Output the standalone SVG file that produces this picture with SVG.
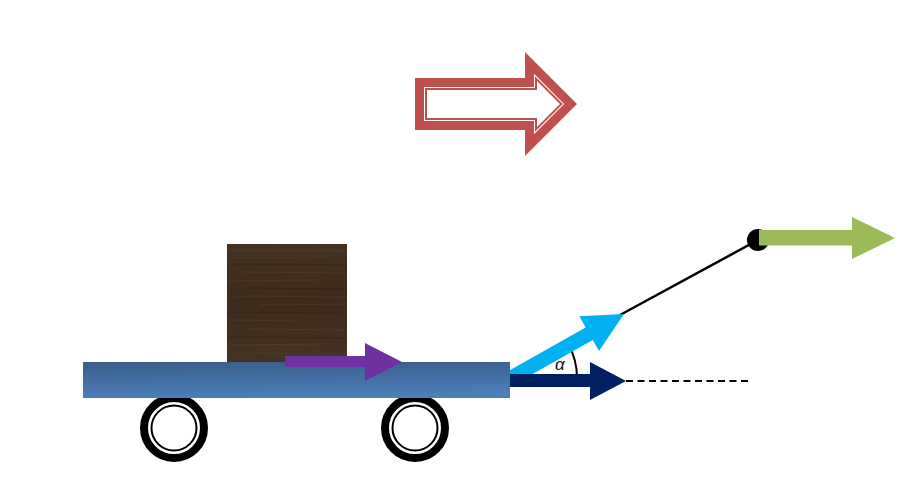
<svg xmlns="http://www.w3.org/2000/svg" width="914" height="484" viewBox="0 0 914 484">
  <style>
    .wheel-tire { fill: none; stroke: #000; stroke-width: 8; }
    .wheel-rim { fill: #fff; stroke: #000; stroke-width: 2; }
    .red-line { fill: none; stroke: #C0504D; stroke-linejoin: miter; stroke-miterlimit: 6; }
    .grain { stroke: #5e4837; stroke-width: 1; opacity: 0.4; }
    .grain2 { stroke: #2c1e14; stroke-width: 1.2; opacity: 0.45; }
  </style>
  <defs>
    <linearGradient id="platGrad" x1="0" y1="0" x2="0.15" y2="1">
      <stop offset="0" stop-color="#3A5D8A"/>
      <stop offset="1" stop-color="#4C7EBA"/>
    </linearGradient>
    <linearGradient id="woodGrad" x1="0" y1="0" x2="0" y2="1">
      <stop offset="0" stop-color="#44311F"/>
      <stop offset="0.5" stop-color="#3D2B1E"/>
      <stop offset="1" stop-color="#443223"/>
    </linearGradient>
  </defs>
  <rect width="914" height="484" fill="#fff"/>

  <!-- Big direction arrow -->
  <g id="direction-arrow">
    <polygon class="red-line" stroke-width="9" points="419.5,82.5 529.5,82.5 529.5,62.9 570.6,104 529.5,145.1 529.5,125.5 419.5,125.5"/>
    <polygon class="red-line" stroke-width="2" points="426,89 536,89 536,78.6 561.4,104 536,129.4 536,119 426,119"/>
  </g>

  <!-- Connectors: angle arc, rope, dashed reference -->
  <g id="connectors">
    <path d="M577,378 A67,67 0 0 0 568.3,344.5" fill="none" stroke="#000" stroke-width="2"/>
    <line x1="620" y1="315" x2="758" y2="240" stroke="#000" stroke-width="2.5"/>
    <line x1="626" y1="381" x2="750" y2="381" stroke="#000" stroke-width="2" stroke-dasharray="7 4.5"/>
  </g>

  <!-- Pulling force (blue, oblique) -->
  <g id="force-oblique">
    <polygon fill="#00B0F0" transform="translate(510,378.5) rotate(-29.5)" points="0,-7.2 91,-7.2 91,-20 131,0 91,20 91,7.2 0,7.2"/>
  </g>

  <!-- Horizontal component (navy) -->
  <g id="force-horizontal">
    <polygon fill="#002060" points="510,374 590,374 590,362 626,381 590,400 590,387 510,387"/>
  </g>

  <!-- Cart -->
  <g id="cart">
    <g id="wheel-left">
      <circle class="wheel-tire" cx="174" cy="428" r="30"/>
      <circle class="wheel-rim" cx="174" cy="428" r="22.5"/>
    </g>
    <g id="wheel-right">
      <circle class="wheel-tire" cx="415" cy="428" r="30"/>
      <circle class="wheel-rim" cx="415" cy="428" r="22.5"/>
    </g>
    <rect id="platform" x="83" y="362" width="427" height="36" fill="url(#platGrad)"/>
  </g>

  <!-- Wooden box -->
  <g id="box">
    <rect x="227" y="244" width="120" height="118" fill="url(#woodGrad)"/>
    <line class="grain" x1="227" y1="250" x2="347" y2="251"/>
    <line class="grain" x1="235" y1="258" x2="330" y2="257"/>
    <line class="grain2" x1="227" y1="264" x2="347" y2="265"/>
    <line class="grain" x1="240" y1="272" x2="347" y2="273"/>
    <line class="grain" x1="227" y1="281" x2="320" y2="280"/>
    <line class="grain2" x1="250" y1="288" x2="347" y2="289"/>
    <line class="grain" x1="227" y1="296" x2="347" y2="297"/>
    <line class="grain" x1="260" y1="305" x2="347" y2="304"/>
    <line class="grain2" x1="227" y1="312" x2="340" y2="313"/>
    <line class="grain" x1="227" y1="320" x2="300" y2="321"/>
    <line class="grain" x1="245" y1="329" x2="347" y2="330"/>
    <line class="grain2" x1="227" y1="337" x2="347" y2="338"/>
    <line class="grain" x1="227" y1="345" x2="330" y2="344"/>
    <line class="grain" x1="255" y1="353" x2="347" y2="354"/>
  </g>

  <!-- Box force (purple) -->
  <g id="force-box">
    <polygon fill="#7030A0" points="285,356 365,356 365,343 402,362 365,381 365,367 285,367"/>
  </g>

  <!-- Rope end with applied force (green) -->
  <g id="rope-end">
    <circle cx="758" cy="240" r="11" fill="#000"/>
    <polygon fill="#9BBB59" points="759,230 852,230 852,217 895,238 852,259 852,245.5 759,245.5"/>
  </g>

  <!-- Angle label -->
  <g id="angle-label">
    <text x="555" y="370" font-family="Liberation Sans, Arial, sans-serif" font-style="italic" font-size="17" fill="#111">α</text>
  </g>
</svg>
